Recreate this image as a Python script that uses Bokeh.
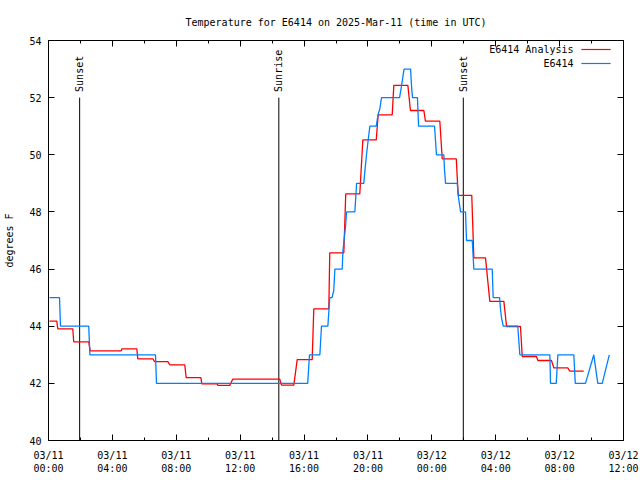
import math
from bokeh.plotting import figure
from bokeh.models import (Range1d, FixedTicker, LinearAxis, Label, BoxAnnotation,
                          CustomJSTickFormatter)
from bokeh.core.properties import value
from bokeh.embed import file_html
from bokeh.resources import INLINE

title_text = "Temperature for E6414 on 2025-Mar-11 (time in UTC)"
y_label = "degrees F"

# hours since 03/11 00:00 UTC
x_tick_hours = [0, 4, 8, 12, 16, 20, 24, 28, 32, 36]
x_tick_labels = ["03/11\n00:00", "03/11\n04:00", "03/11\n08:00", "03/11\n12:00",
                 "03/11\n16:00", "03/11\n20:00", "03/12\n00:00", "03/12\n04:00",
                 "03/12\n08:00", "03/12\n12:00"]
y_ticks = [40, 42, 44, 46, 48, 50, 52, 54]

analysis_hours = [0.06, 0.52, 0.58, 1.52, 1.58, 2.52, 2.61, 4.55, 4.60, 5.53, 5.59,
                  6.54, 6.64, 7.47, 7.59, 8.53, 8.62, 9.54, 9.60, 10.56, 10.60, 11.35,
                  11.54, 14.48, 14.59, 15.36, 15.57, 16.51, 16.61, 17.55, 17.61, 18.49,
                  18.61, 19.49, 19.68, 20.52, 20.64, 21.52, 21.62, 22.50, 22.66, 23.50,
                  23.60, 24.50, 24.65, 25.53, 25.65, 26.50, 26.63, 27.36, 27.63, 28.51,
                  28.68, 29.55, 29.66, 30.55, 30.64, 31.49, 31.64, 32.51, 32.64, 33.51]
analysis_temps = [44.18, 44.18, 43.91, 43.91, 43.45, 43.45, 43.14, 43.14, 43.21, 43.21, 42.86,
                  42.86, 42.76, 42.76, 42.65, 42.65, 42.20, 42.20, 41.98, 41.98, 41.93, 41.93,
                  42.15, 42.15, 41.94, 41.94, 42.83, 42.83, 44.61, 44.61, 46.57, 46.57,
                  48.63, 48.63, 50.52, 50.52, 51.40, 51.40, 52.43, 52.43, 51.55, 51.55,
                  51.18, 51.18, 49.86, 49.86, 48.58, 48.58, 46.39, 46.39, 44.87, 44.87,
                  43.99, 43.99, 42.94, 42.94, 42.80, 42.80, 42.54, 42.54, 42.43, 42.43]

obs_hours = [0.06, 0.69, 0.75, 2.52, 2.59, 6.70, 6.76, 16.23, 16.34, 16.99, 17.09, 17.49,
             17.61, 17.75, 17.86, 17.93, 18.39, 18.43, 18.50, 18.60, 18.66, 19.18, 19.29,
             19.74, 19.82, 19.91, 20.01, 20.12, 20.52, 20.63, 20.74, 20.85, 21.98, 22.10,
             22.18, 22.26, 22.67, 22.73, 22.79, 23.10, 23.17, 24.17, 24.23, 24.29, 24.75,
             24.79, 24.86, 25.59, 25.67, 25.80, 26.11, 26.17, 26.53, 26.58, 26.63, 27.78,
             27.84, 28.24, 28.30, 28.36, 28.47, 29.38, 29.51, 31.39, 31.43, 31.79, 31.89,
             32.89, 32.98, 33.62, 34.14, 34.39, 34.67, 35.11]
obs_temps = [45.0, 45.0, 44.0, 44.0, 43.0, 43.0, 42.0, 42.0, 43.0, 43.0, 44.0, 44.0,
             45.0, 45.0, 45.25, 46.0, 46.0, 46.6, 47.0, 47.5, 48.0, 48.0, 49.0,
             49.0, 49.5, 50.0, 50.5, 51.0, 51.0, 51.4, 51.6, 52.0, 52.0, 52.4,
             52.7, 53.0, 53.0, 52.4, 52.0, 52.0, 51.0, 51.0, 50.5, 50.0, 50.0,
             49.5, 49.0, 49.0, 48.5, 48.0, 48.0, 47.0, 47.0, 46.5, 46.0, 46.0,
             45.0, 45.0, 44.6, 44.3, 44.0, 44.0, 43.0, 43.0, 42.0, 42.0, 43.0,
             43.0, 42.0, 42.0, 43.0, 42.0, 42.0, 43.0]

event_hours = [1.95, 14.42, 25.97]
event_names = ["Sunset", "Sunrise", "Sunset"]
event_line_top = 52.0
event_label_base = 52.2

series_names = ["E6414 Analysis", "E6414"]
series_colors = ["#ff0000", "#0080ff"]

FONT = "DejaVu Sans Mono"
FS = "10px"

p = figure(width=640, height=480, output_backend="svg", toolbar_location=None,
           x_range=Range1d(0, 36), y_range=Range1d(40, 54),
           min_border_left=48, min_border_right=17, min_border_top=40, min_border_bottom=40,
           title=title_text)
p.title.align = "center"
p.title.text_font = FONT
p.title.text_font_size = FS
p.title.text_font_style = "normal"
p.title.text_color = "black"
p.title.standoff = 26
p.grid.visible = False
p.outline_line_color = "black"
p.outline_line_width = 1
p.background_fill_color = "white"
p.border_fill_color = "white"

xt = FixedTicker(ticks=x_tick_hours, minor_ticks=[h + 2 for h in x_tick_hours[:-1]])
yt = FixedTicker(ticks=y_ticks, minor_ticks=[])

bottom_ax = p.below[0]
left_ax = p.left[0]
top_ax = LinearAxis(formatter=CustomJSTickFormatter(code="return '';"))
right_ax = LinearAxis(formatter=CustomJSTickFormatter(code="return '';"))
p.add_layout(top_ax, "above")
p.add_layout(right_ax, "right")

bottom_ax.ticker = xt
top_ax.ticker = xt
left_ax.ticker = yt
right_ax.ticker = yt
for ax in (bottom_ax, top_ax, left_ax, right_ax):
    ax.axis_line_color = None
    ax.major_tick_in = 6
    ax.major_tick_out = 0
    ax.minor_tick_in = 3
    ax.minor_tick_out = 0
    ax.major_tick_line_color = "black"
    ax.minor_tick_line_color = "black"
    ax.major_label_text_font = FONT
    ax.major_label_text_font_size = FS
    ax.major_label_text_color = "black"
for ax in (top_ax, right_ax):
    ax.major_label_standoff = 0

bottom_ax.formatter = CustomJSTickFormatter(
    args=dict(tick_vals=x_tick_hours, tick_texts=x_tick_labels),
    code="const i = tick_vals.indexOf(tick); return i >= 0 ? tick_texts[i] : '';")
bottom_ax.major_label_standoff = 9
left_ax.major_label_standoff = 7
left_ax.axis_label = y_label
left_ax.axis_label_text_font = FONT
left_ax.axis_label_text_font_size = FS
left_ax.axis_label_text_font_style = "normal"
left_ax.axis_label_text_color = "black"
left_ax.axis_label_standoff = 11

# event lines
p.segment(x0=event_hours, y0=[40] * len(event_hours), x1=event_hours,
          y1=[event_line_top] * len(event_hours), line_color="black", line_width=1)
p.text(x=event_hours, y=[event_label_base] * len(event_hours), text=event_names,
       angle=math.pi / 2, text_align="left", text_baseline="middle",
       text_font=value(FONT), text_font_size=FS, text_color="black")

p.line(analysis_hours, analysis_temps, line_color=series_colors[0], line_width=1.3)
p.line(obs_hours, obs_temps, line_color=series_colors[1], line_width=1.3)

# legend (gnuplot style: text then sample line), screen units relative to frame
for i, (name, col) in enumerate(zip(series_names, series_colors)):
    yy = 391 - 14 * i
    p.add_layout(Label(x=525, y=yy, x_units="screen", y_units="screen", text=name,
                       text_align="right", text_baseline="middle",
                       text_font=FONT, text_font_size=FS, text_color="black"))
    p.add_layout(BoxAnnotation(left=533, right=562, bottom=yy - 0.6, top=yy + 0.6,
                               left_units="screen", right_units="screen",
                               bottom_units="screen", top_units="screen",
                               fill_color=col, fill_alpha=1, line_color=col, line_width=0.5))

open("out.html", "w").write(file_html(p, INLINE))
